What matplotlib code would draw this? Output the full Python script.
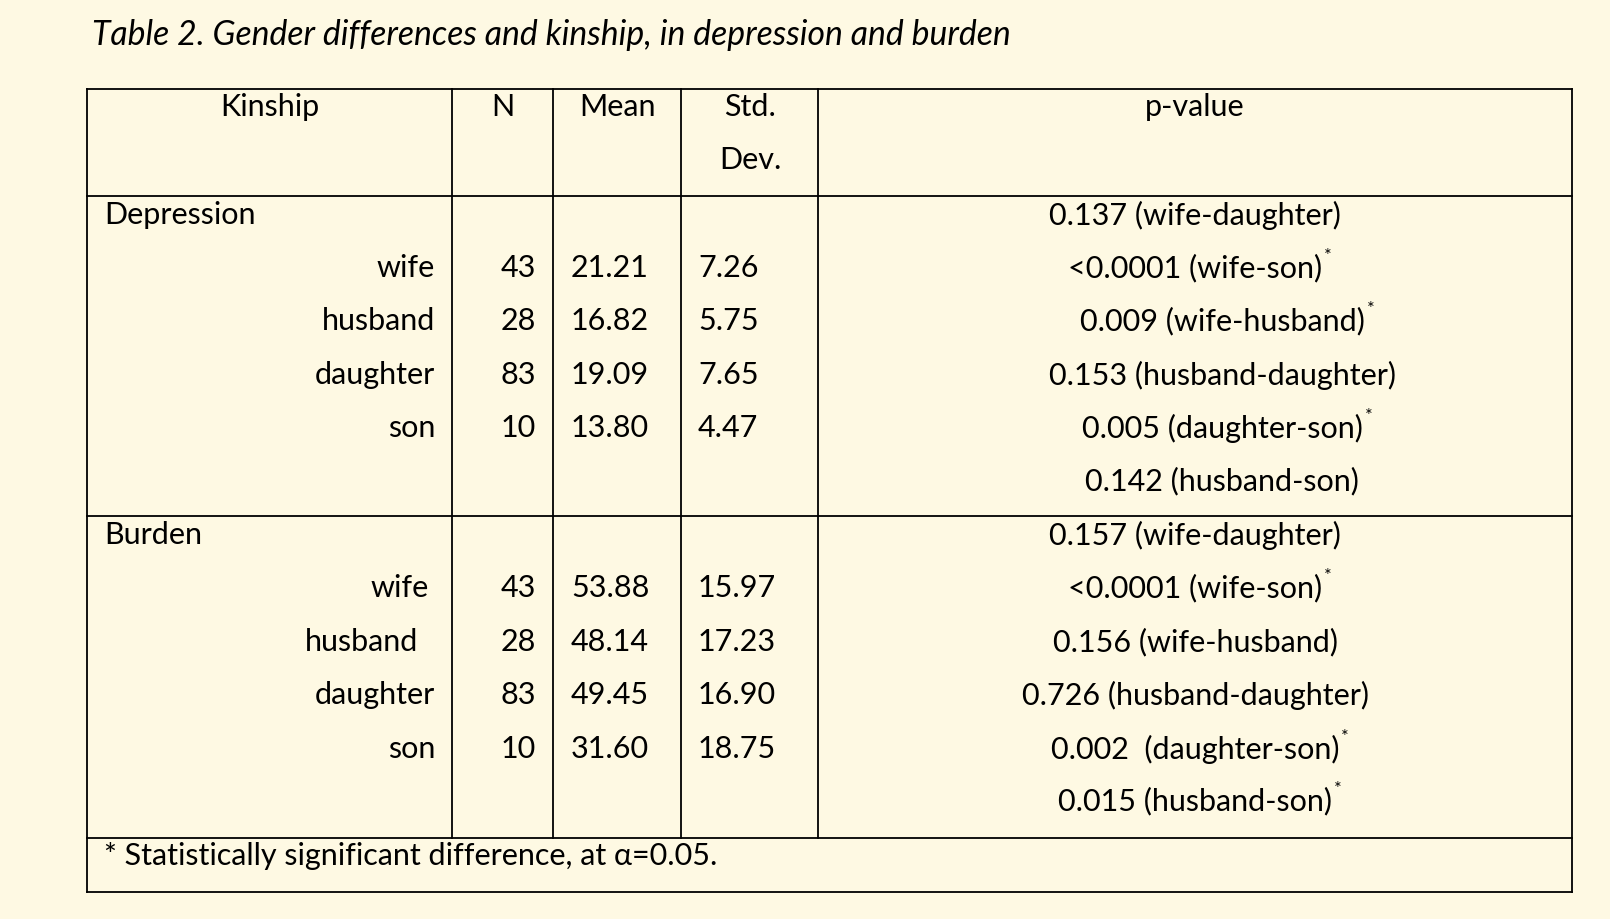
import matplotlib
matplotlib.use('Agg')
import matplotlib.pyplot as plt

# Table data
title = "Table 2. Gender differences and kinship, in depression and burden"
headers = ["Kinship", "N", "Mean", "Std.\nDev.", "p-value"]
groups = ["Depression", "Burden"]
kinship = ["wife", "husband", "daughter", "son"]

dep_n = [43, 28, 83, 10]
dep_mean = [21.21, 16.82, 19.09, 13.80]
dep_sd = [7.26, 5.75, 7.65, 4.47]
dep_p = ["0.137 (wife-daughter)", "<0.0001 (wife-son)", "0.009 (wife-husband)",
         "0.153 (husband-daughter)", "0.005 (daughter-son)", "0.142 (husband-son)"]
dep_sig = [False, True, True, False, True, False]

bur_n = [43, 28, 83, 10]
bur_mean = [53.88, 48.14, 49.45, 31.60]
bur_sd = [15.97, 17.23, 16.90, 18.75]
bur_p = ["0.157 (wife-daughter)", "<0.0001 (wife-son)", "0.156 (wife-husband)",
         "0.726 (husband-daughter)", "0.002  (daughter-son)", "0.015 (husband-son)"]
bur_sig = [False, True, False, False, True, True]

footnote = "* Statistically significant difference, at \u03b1=0.05."

# Layout (pixels)
W, H = 1610, 919
bg = "#fef9e3"
font = ["Lato", "DejaVu Sans"]
fs = 22
x_left, x_right = 87, 1572
col_x = [452, 553, 681, 818]
h_lines = [89, 196, 516, 838, 892]
row_y = [[215, 268, 321, 375, 428, 481], [535, 588, 642, 695, 749, 801]]
label_right = [[435, 435, 435, 435], [429, 418, 435, 435]]
p_center = [[1195, 1195, 1222, 1222, 1222, 1222], [1195] * 6]

fig = plt.figure(figsize=(W / 100, H / 100), dpi=100, facecolor=bg)
ax = fig.add_axes([0, 0, 1, 1])
ax.set_xlim(0, W)
ax.set_ylim(H, 0)
ax.axis('off')
ax.set_facecolor(bg)

ax.text(92, 35, title, fontsize=24.3, style='italic', family=font,
        ha='left', va='center')

# Grid lines
lw = 1.3
for y in h_lines:
    ax.plot([x_left, x_right], [y, y], color='black', lw=lw)
ax.plot([x_left, x_left], [h_lines[0], h_lines[-1]], color='black', lw=lw)
ax.plot([x_right, x_right], [h_lines[0], h_lines[-1]], color='black', lw=lw)
for x in col_x:
    ax.plot([x, x], [h_lines[0], h_lines[3]], color='black', lw=lw)

# Header
hdr_x = [270, 503, 617, 750, 1195]
for x, h in zip(hdr_x, headers):
    lines = h.split("\n")
    for i, t in enumerate(lines):
        ax.text(x, 107 + i * 53, t, fontsize=fs, family=font, ha='center', va='center')

fig.canvas.draw()
renderer = fig.canvas.get_renderer()

def star_after(txt_obj, y):
    bb = txt_obj.get_window_extent(renderer)
    x_end = ax.transData.inverted().transform((bb.x1, bb.y1))[0]
    ax.text(x_end + 2, y - 12, "*", fontsize=fs * 0.6, family=font,
            ha='left', va='center')

all_n = [dep_n, bur_n]
all_mean = [dep_mean, bur_mean]
all_sd = [dep_sd, bur_sd]
all_p = [dep_p, bur_p]
all_sig = [dep_sig, bur_sig]

for g in range(2):
    ys = row_y[g]
    ax.text(104, ys[0], groups[g], fontsize=fs, family=font, ha='left', va='center')
    for i, k in enumerate(kinship):
        y = ys[i + 1]
        ax.text(label_right[g][i], y, k, fontsize=fs, family=font, ha='right', va='center')
        ax.text(536, y, str(all_n[g][i]), fontsize=fs, family=font, ha='right', va='center')
        ax.text(571, y, "%.2f" % all_mean[g][i], fontsize=fs, family=font, ha='left', va='center')
        ax.text(698, y, "%.2f" % all_sd[g][i], fontsize=fs, family=font, ha='left', va='center')
    for j, p in enumerate(all_p[g]):
        y = ys[j]
        t = ax.text(p_center[g][j], y, p, fontsize=fs, family=font, ha='center', va='center')
        if all_sig[g][j]:
            star_after(t, y)

ax.text(104, 856, footnote, fontsize=fs, family=font, ha='left', va='center')

fig.savefig("out.png", dpi=100, facecolor=bg)
